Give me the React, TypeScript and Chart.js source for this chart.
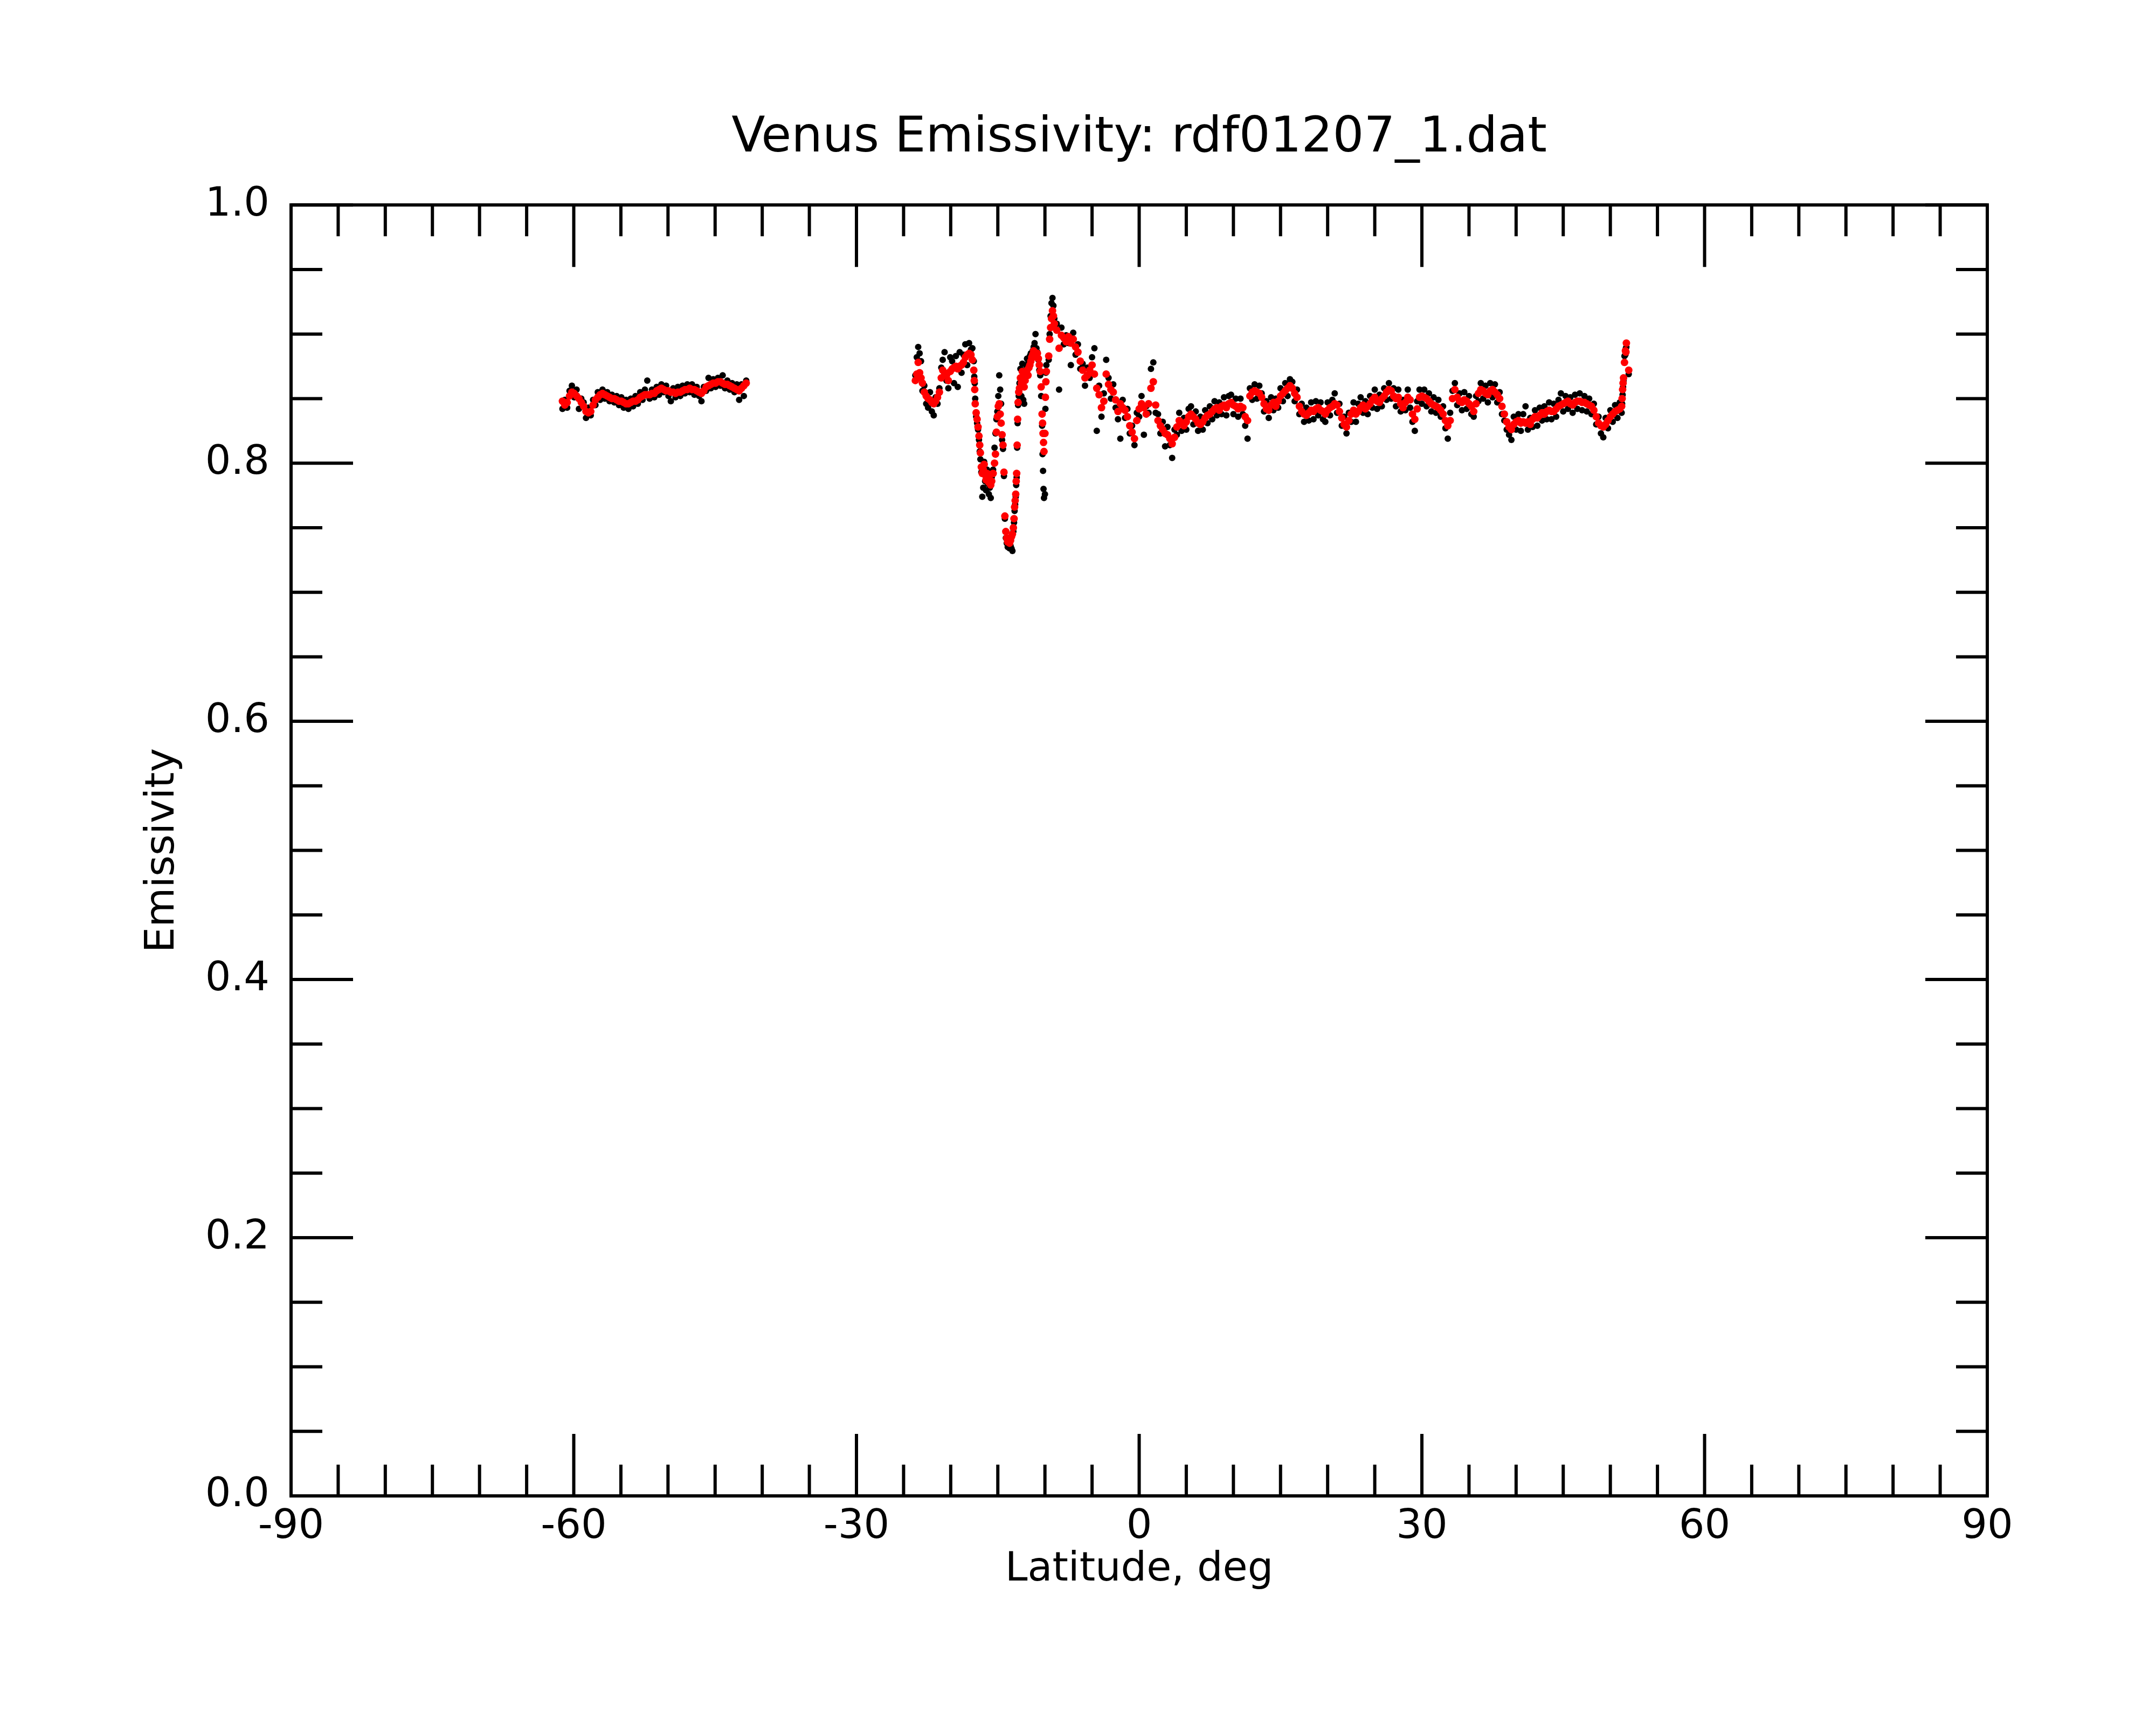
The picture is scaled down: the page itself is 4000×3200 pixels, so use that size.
import { useEffect, useRef } from "react";
import Chart from "chart.js/auto";

const FONT = "'DejaVu Sans', sans-serif";
const TITLE = "Venus Emissivity: rdf01207_1.dat";
const X_LABEL = "Latitude, deg";
const Y_LABEL = "Emissivity";

const xTicks = [-90, -60, -30, 0, 30, 60, 90];
const yTicks = [0, 0.2, 0.4, 0.6, 0.8, 1.0];
const xMinorStep = 5;
const yMinorStep = 0.05;

// southern strip, -61 to -42 deg
const southLat = [
  -61.2, -60.95, -60.7, -60.45, -60.2, -59.95, -59.7, -59.45, -59.2, -58.95,
  -58.7, -58.45, -58.2, -57.95, -57.7, -57.45, -57.2, -56.95, -56.7, -56.45,
  -56.2, -55.95, -55.7, -55.45, -55.2, -54.95, -54.7, -54.45, -54.2, -53.95,
  -53.7, -53.45, -53.2, -52.95, -52.7, -52.45, -52.2, -51.95, -51.7, -51.45,
  -51.2, -50.95, -50.7, -50.45, -50.2, -49.95, -49.7, -49.45, -49.2, -48.95,
  -48.7, -48.45, -48.2, -47.95, -47.7, -47.45, -47.2, -46.95, -46.7, -46.45,
  -46.2, -45.95, -45.7, -45.45, -45.2, -44.95, -44.7, -44.45, -44.2, -43.95,
  -43.7, -43.45, -43.2, -42.95, -42.7, -42.45, -42.2, -41.95, -41.7,
];
const southRaw = [
  0.842, 0.849, 0.843, 0.856, 0.860, 0.851, 0.857, 0.842, 0.850, 0.847,
  0.835, 0.843, 0.837, 0.849, 0.845, 0.855, 0.849, 0.857, 0.850, 0.855,
  0.848, 0.853, 0.847, 0.852, 0.845, 0.851, 0.843, 0.849, 0.842, 0.850,
  0.844, 0.852, 0.846, 0.855, 0.849, 0.857, 0.864, 0.850, 0.857, 0.851,
  0.859, 0.853, 0.861, 0.855, 0.860, 0.852, 0.848, 0.858, 0.851, 0.859,
  0.852, 0.860, 0.854, 0.861, 0.855, 0.861, 0.853, 0.859, 0.852, 0.848,
  0.859, 0.856, 0.866, 0.858, 0.865, 0.859, 0.866, 0.860, 0.868, 0.858,
  0.864, 0.857, 0.862, 0.855, 0.861, 0.849, 0.861, 0.852, 0.864,
];
const southFit = [
  0.848, 0.845, 0.847, 0.852, 0.855, 0.854, 0.852, 0.850, 0.847, 0.844,
  0.840, 0.839, 0.840, 0.845, 0.849, 0.851, 0.853, 0.854, 0.853, 0.852,
  0.851, 0.850, 0.850, 0.849, 0.848, 0.848, 0.847, 0.846, 0.846, 0.847,
  0.848, 0.848, 0.849, 0.851, 0.852, 0.853, 0.853, 0.853, 0.854, 0.854,
  0.856, 0.857, 0.858, 0.857, 0.856, 0.856, 0.855, 0.855, 0.854, 0.855,
  0.855, 0.856, 0.857, 0.857, 0.858, 0.857, 0.857, 0.856, 0.855, 0.854,
  0.856, 0.859, 0.860, 0.861, 0.862, 0.862, 0.863, 0.863, 0.862, 0.861,
  0.861, 0.860, 0.859, 0.858, 0.857, 0.856, 0.858, 0.860, 0.862,
];

// northern strip, -24 to 52 deg
const northLat = [
  // -23.75 .. -17.7
  -23.75, -23.6, -23.45, -23.3, -23.15, -23.0, -22.8, -22.6, -22.4, -22.2,
  -22.0, -21.8, -21.6, -21.4, -21.2, -21.0, -20.85, -20.65, -20.45, -20.25,
  -20.05, -19.85, -19.65, -19.45, -19.25, -19.05, -18.85, -18.65, -18.45, -18.25,
  -18.05, -17.85, -17.7,
  // -17.55 .. -9.0
  -17.55, -17.5, -17.45, -17.4, -17.3, -17.2, -17.1, -17.0, -16.92, -16.85,
  -16.75, -16.65, -16.55, -16.45, -16.35, -16.25, -16.15, -16.05, -15.95, -15.85,
  -15.75, -15.65, -15.5, -15.35, -15.25, -15.15, -15.05, -14.95, -14.85, -14.75,
  -14.65, -14.55, -14.45, -14.35, -14.25, -14.15, -14.05, -13.95, -13.85, -13.75,
  -13.65, -13.55, -13.45, -13.35, -13.28, -13.22, -13.16, -13.1, -13.05, -13.0,
  -12.95, -12.9, -12.85, -12.78, -12.7, -12.6, -12.5, -12.4, -12.3, -12.2,
  -12.1, -12.0, -11.9, -11.8, -11.7, -11.6, -11.5, -11.4, -11.3, -11.2,
  -11.1, -11.0, -10.9, -10.8, -10.7, -10.6, -10.5, -10.4, -10.3, -10.25,
  -10.2, -10.15, -10.1, -10.0, -9.95, -9.9, -9.85, -9.6, -9.5, -9.4,
  -9.3, -9.2, -9.1, -9.0,
  // -8.75 .. 51
  -8.75, -8.5, -8.25,
  -8, -7.75, -7.5, -7.25, -7, -6.75, -6.5, -6.25,
  -6, -5.75, -5.5, -5.25, -5, -4.75, -4.5, -4.25,
  -4, -3.75, -3.5, -3.25, -3, -2.75, -2.5, -2.25,
  -2, -1.75, -1.5, -1.25, -1, -0.75, -0.5, -0.25,
  0, 0.25, 0.5, 0.75, 1, 1.25, 1.5, 1.75,
  2, 2.25, 2.5, 2.75, 3, 3.25, 3.5, 3.75,
  4, 4.25, 4.5, 4.75, 5, 5.25, 5.5, 5.75,
  6, 6.25, 6.5, 6.75, 7, 7.25, 7.5, 7.75,
  8, 8.25, 8.5, 8.75, 9, 9.25, 9.5, 9.75,
  10, 10.25, 10.5, 10.75, 11, 11.25, 11.5, 11.75,
  12, 12.25, 12.5, 12.75, 13, 13.25, 13.5, 13.75,
  14, 14.25, 14.5, 14.75, 15, 15.25, 15.5, 15.75,
  16, 16.25, 16.5, 16.75, 17, 17.25, 17.5, 17.75,
  18, 18.25, 18.5, 18.75, 19, 19.25, 19.5, 19.75,
  20, 20.25, 20.5, 20.75, 21, 21.25, 21.5, 21.75,
  22, 22.25, 22.5, 22.75, 23, 23.25, 23.5, 23.75,
  24, 24.25, 24.5, 24.75, 25, 25.25, 25.5, 25.75,
  26, 26.25, 26.5, 26.75, 27, 27.25, 27.5, 27.75,
  28, 28.25, 28.5, 28.75, 29, 29.25, 29.5, 29.75,
  30, 30.25, 30.5, 30.75, 31, 31.25, 31.5, 31.75,
  32, 32.25, 32.5, 32.75, 33, 33.25, 33.5, 33.75,
  34, 34.25, 34.5, 34.75, 35, 35.25, 35.5, 35.75,
  36, 36.25, 36.5, 36.75, 37, 37.25, 37.5, 37.75,
  38, 38.25, 38.5, 38.75, 39, 39.25, 39.5, 39.75,
  40, 40.25, 40.5, 40.75, 41, 41.25, 41.5, 41.75,
  42, 42.25, 42.5, 42.75, 43, 43.25, 43.5, 43.75,
  44, 44.25, 44.5, 44.75, 45, 45.25, 45.5, 45.75,
  46, 46.25, 46.5, 46.75, 47, 47.25, 47.5, 47.75,
  48, 48.25, 48.5, 48.75, 49, 49.25, 49.5, 49.75,
  50, 50.25, 50.5, 50.75, 51,
  // final upturn
  51.2, 51.25, 51.3, 51.35, 51.4, 51.5, 51.6, 51.65, 51.7, 51.95,
];
const northRaw = [
  0.868, 0.882, 0.890, 0.885, 0.879, 0.856, 0.860, 0.846, 0.843, 0.855,
  0.840, 0.837, 0.851, 0.846, 0.858, 0.874, 0.880, 0.886, 0.864, 0.858,
  0.882, 0.879, 0.862, 0.883, 0.859, 0.886, 0.870, 0.884, 0.892, 0.876,
  0.893, 0.888, 0.889,
  0.879, 0.867, 0.862, 0.850, 0.836, 0.831, 0.826, 0.818, 0.809, 0.803,
  0.793, 0.774, 0.781, 0.801, 0.786, 0.779, 0.795, 0.784, 0.776, 0.781,
  0.773, 0.789, 0.795, 0.812, 0.823, 0.834, 0.840, 0.852, 0.868, 0.857,
  0.846, 0.818, 0.811, 0.790, 0.757, 0.742, 0.738, 0.735, 0.737, 0.734,
  0.736, 0.734, 0.732, 0.747, 0.754, 0.763, 0.768, 0.774, 0.783, 0.789,
  0.812, 0.831, 0.845, 0.852, 0.862, 0.873, 0.852, 0.877, 0.849, 0.846,
  0.872, 0.876, 0.881, 0.880, 0.878, 0.883, 0.885, 0.884, 0.887, 0.890,
  0.893, 0.900, 0.889, 0.886, 0.880, 0.872, 0.868, 0.852, 0.829, 0.807,
  0.794, 0.780, 0.773, 0.776, 0.842, 0.870, 0.876, 0.880, 0.900, 0.914,
  0.924, 0.928, 0.922, 0.912,
  0.908, 0.857, 0.905,
  0.892, 0.899, 0.893, 0.876, 0.901, 0.884, 0.892, 0.873,
  0.877, 0.860, 0.874, 0.866, 0.882, 0.889, 0.825, 0.860,
  0.836, 0.854, 0.880, 0.866, 0.850, 0.861, 0.843, 0.834,
  0.819, 0.849, 0.835, 0.842, 0.823, 0.829, 0.814, 0.839,
  0.836, 0.852, 0.822, 0.844, 0.839, 0.873, 0.878, 0.839,
  0.838, 0.823, 0.832, 0.813, 0.828, 0.814, 0.804, 0.826,
  0.822, 0.839, 0.825, 0.835, 0.826, 0.842, 0.844, 0.830,
  0.840, 0.825, 0.836, 0.826, 0.841, 0.831, 0.844, 0.834,
  0.848, 0.837, 0.847, 0.838, 0.851, 0.837, 0.852, 0.853,
  0.838, 0.850, 0.836, 0.850, 0.838, 0.829, 0.819, 0.858,
  0.849, 0.861, 0.850, 0.860, 0.854, 0.840, 0.848, 0.835,
  0.851, 0.841, 0.850, 0.843, 0.858, 0.848, 0.862, 0.852,
  0.865, 0.863, 0.848, 0.857, 0.838, 0.846, 0.832, 0.843,
  0.833, 0.847, 0.834, 0.848, 0.837, 0.847, 0.834, 0.832,
  0.847, 0.837, 0.849, 0.854, 0.839, 0.846, 0.829, 0.836,
  0.823, 0.839, 0.832, 0.847, 0.832, 0.846, 0.851, 0.839,
  0.848, 0.838, 0.852, 0.843, 0.857, 0.842, 0.853, 0.844,
  0.858, 0.849, 0.862, 0.850, 0.858, 0.844, 0.857, 0.840,
  0.849, 0.841, 0.857, 0.843, 0.832, 0.825, 0.848, 0.857,
  0.846, 0.857, 0.844, 0.854, 0.840, 0.851, 0.839, 0.849,
  0.836, 0.844, 0.827, 0.819, 0.839, 0.856, 0.862, 0.845,
  0.854, 0.841, 0.855, 0.842, 0.852, 0.838, 0.836, 0.852,
  0.848, 0.862, 0.850, 0.860, 0.847, 0.862, 0.851, 0.861,
  0.847, 0.855, 0.838, 0.833, 0.826, 0.822, 0.818, 0.836,
  0.826, 0.838, 0.825, 0.838, 0.844, 0.826, 0.835, 0.828,
  0.841, 0.829, 0.843, 0.833, 0.844, 0.834, 0.847, 0.834,
  0.846, 0.836, 0.849, 0.854, 0.840, 0.852, 0.842, 0.851,
  0.839, 0.853, 0.842, 0.854, 0.841, 0.852, 0.840, 0.850,
  0.838, 0.846, 0.830, 0.836, 0.823, 0.820, 0.835, 0.827,
  0.841, 0.832, 0.845, 0.835, 0.847,
  0.839, 0.846, 0.853, 0.859, 0.864, 0.883, 0.884, 0.889, 0.890, 0.869,
];
const northFit = [
  0.864, 0.869, 0.878, 0.870, 0.866, 0.862, 0.855, 0.852, 0.850, 0.849,
  0.847, 0.846, 0.848, 0.851, 0.855, 0.866, 0.872, 0.870, 0.868, 0.864,
  0.871, 0.873, 0.874, 0.875, 0.873, 0.875, 0.876, 0.878, 0.882, 0.884,
  0.885, 0.884, 0.880,
  0.872, 0.864, 0.857, 0.846, 0.839, 0.834, 0.828, 0.821, 0.814, 0.808,
  0.797, 0.792, 0.795, 0.799, 0.791, 0.787, 0.792, 0.789, 0.785, 0.787,
  0.783, 0.786, 0.792, 0.800, 0.807, 0.824, 0.836, 0.844, 0.846, 0.838,
  0.831, 0.822, 0.814, 0.793, 0.759, 0.747, 0.742, 0.739, 0.741, 0.738,
  0.740, 0.743, 0.745, 0.750, 0.757, 0.766, 0.771, 0.776, 0.786, 0.792,
  0.814, 0.834, 0.847, 0.855, 0.858, 0.866, 0.862, 0.871, 0.867, 0.859,
  0.864, 0.869, 0.872, 0.868, 0.874, 0.876, 0.879, 0.882, 0.884, 0.887,
  0.886, 0.884, 0.882, 0.885, 0.881, 0.876, 0.871, 0.859, 0.838, 0.831,
  0.823, 0.816, 0.809, 0.823, 0.851, 0.863, 0.871, 0.883, 0.896, 0.905,
  0.912, 0.918, 0.914, 0.908,
  0.903, 0.889, 0.899,
  0.897, 0.894, 0.898, 0.893, 0.896, 0.890, 0.886, 0.879,
  0.872, 0.866, 0.868, 0.872, 0.876, 0.869, 0.858, 0.853,
  0.843, 0.848, 0.869, 0.861, 0.857, 0.855, 0.849, 0.840,
  0.846, 0.843, 0.841, 0.836, 0.829, 0.824, 0.819, 0.833,
  0.842, 0.846, 0.843, 0.838, 0.846, 0.858, 0.863, 0.845,
  0.833, 0.829, 0.826, 0.823, 0.822, 0.819, 0.815, 0.820,
  0.828, 0.833, 0.831, 0.829, 0.832, 0.836, 0.838, 0.836,
  0.834, 0.831, 0.830, 0.832, 0.835, 0.837, 0.838, 0.840,
  0.842, 0.843, 0.841, 0.844, 0.845, 0.843, 0.846, 0.847,
  0.845, 0.844, 0.842, 0.844, 0.843, 0.836, 0.833, 0.852,
  0.855, 0.856, 0.855, 0.854, 0.851, 0.846, 0.842, 0.841,
  0.845, 0.847, 0.844, 0.848, 0.852, 0.854, 0.856, 0.858,
  0.860, 0.858, 0.854, 0.851, 0.844, 0.840, 0.838, 0.837,
  0.839, 0.841, 0.840, 0.842, 0.843, 0.841, 0.840, 0.838,
  0.841, 0.843, 0.844, 0.846, 0.845, 0.840, 0.835, 0.830,
  0.828, 0.833, 0.838, 0.841, 0.838, 0.840, 0.843, 0.845,
  0.842, 0.844, 0.846, 0.849, 0.851, 0.848, 0.847, 0.850,
  0.852, 0.855, 0.857, 0.856, 0.852, 0.850, 0.851, 0.846,
  0.843, 0.847, 0.851, 0.849, 0.838, 0.834, 0.842, 0.851,
  0.852, 0.851, 0.850, 0.848, 0.846, 0.845, 0.844, 0.843,
  0.841, 0.838, 0.833, 0.829, 0.833, 0.850, 0.857, 0.851,
  0.848, 0.847, 0.849, 0.848, 0.846, 0.844, 0.840, 0.846,
  0.854, 0.857, 0.856, 0.854, 0.853, 0.856, 0.857, 0.855,
  0.853, 0.850, 0.844, 0.838, 0.832, 0.828, 0.826, 0.830,
  0.832, 0.833, 0.831, 0.832, 0.831, 0.832, 0.830, 0.834,
  0.836, 0.835, 0.837, 0.839, 0.838, 0.840, 0.841, 0.840,
  0.840, 0.842, 0.844, 0.845, 0.846, 0.847, 0.848, 0.846,
  0.845, 0.847, 0.848, 0.848, 0.847, 0.847, 0.846, 0.845,
  0.844, 0.841, 0.836, 0.831, 0.829, 0.828, 0.830, 0.833,
  0.836, 0.838, 0.840, 0.841, 0.842,
  0.844, 0.850, 0.857, 0.862, 0.866, 0.878, 0.887, 0.886, 0.893, 0.872,
];

function toPoints(lat: number[], val: number[]) {
  return lat.map((x, i) => ({ x, y: val[i] }));
}

const MAJOR_LEN = 115;
const MINOR_LEN = 58;

// IDL-style frame: box on all four sides, ticks pointing inwards
const frameTicks = {
  id: "frameTicks",
  afterDatasetsDraw(chart: any) {
    const { ctx, chartArea, scales } = chart;
    const { left, right, top, bottom } = chartArea;
    const x = scales.x;
    const y = scales.y;
    ctx.save();
    ctx.strokeStyle = "#000";
    ctx.lineWidth = 6;
    ctx.beginPath();
    const nx = Math.round((x.max - x.min) / xMinorStep);
    for (let i = 0; i <= nx; i++) {
      const v = x.min + i * xMinorStep;
      const px = x.getPixelForValue(v);
      const len = xTicks.includes(v) ? MAJOR_LEN : MINOR_LEN;
      ctx.moveTo(px, bottom);
      ctx.lineTo(px, bottom - len);
      ctx.moveTo(px, top);
      ctx.lineTo(px, top + len);
    }
    const ny = Math.round((y.max - y.min) / yMinorStep);
    for (let i = 0; i <= ny; i++) {
      const v = y.min + i * yMinorStep;
      const py = y.getPixelForValue(v);
      const major = yTicks.some((t) => Math.abs(t - v) < 1e-6);
      const len = major ? MAJOR_LEN : MINOR_LEN;
      ctx.moveTo(left, py);
      ctx.lineTo(left + len, py);
      ctx.moveTo(right, py);
      ctx.lineTo(right - len, py);
    }
    ctx.stroke();
    ctx.strokeRect(left, top, right - left, bottom - top);
    ctx.restore();
  },
};

export default function App() {
  const canvasRef = useRef<HTMLCanvasElement>(null);

  useEffect(() => {
    if (!canvasRef.current) return;
    Chart.defaults.font.family = FONT;
    Chart.defaults.color = "#000";

    const chart = new Chart(canvasRef.current, {
      type: "scatter",
      data: {
        datasets: [
          {
            label: "smoothed",
            data: [...toPoints(southLat, southFit), ...toPoints(northLat, northFit)],
            backgroundColor: "#ff0000",
            pointRadius: 7,
            pointBorderWidth: 0,
            pointHoverRadius: 7,
            order: 1,
          },
          {
            label: "raw",
            data: [...toPoints(southLat, southRaw), ...toPoints(northLat, northRaw)],
            backgroundColor: "#000000",
            pointRadius: 6,
            pointBorderWidth: 0,
            pointHoverRadius: 6,
            order: 2,
          },
        ],
      },
      options: {
        animation: false,
        responsive: false,
        devicePixelRatio: 1,
        events: [],
        // left padding + equal right gutter keep the title centred over the plot
        layout: { padding: { left: 227, right: 0, top: 0, bottom: 0 } },
        plugins: {
          legend: { display: false },
          tooltip: { enabled: false },
          title: {
            display: true,
            text: TITLE,
            color: "#000",
            font: { family: FONT, size: 91, weight: "normal", lineHeight: 1.2 },
            padding: { top: 203, bottom: 68 },
          },
        },
        scales: {
          x: {
            type: "linear",
            min: -90,
            max: 90,
            grid: { display: false, drawTicks: false },
            border: { display: false },
            afterBuildTicks: (s: any) => {
              s.ticks = xTicks.map((v) => ({ value: v }));
            },
            afterFit: (s: any) => {
              s.height = 425;
            },
            ticks: {
              color: "#000",
              font: { family: FONT, size: 75 },
              padding: 14,
              maxRotation: 0,
              autoSkip: false,
              callback: (v: any) => String(v),
            },
            title: {
              display: true,
              text: X_LABEL,
              color: "#000",
              font: { family: FONT, size: 75, lineHeight: 1.2 },
              padding: { top: 0, bottom: 242 },
            },
          },
          y: {
            type: "linear",
            min: 0,
            max: 1,
            grid: { display: false, drawTicks: false },
            border: { display: false },
            afterBuildTicks: (s: any) => {
              s.ticks = yTicks.map((v) => ({ value: v }));
            },
            afterFit: (s: any) => {
              s.width = 313;
            },
            ticks: {
              color: "#000",
              font: { family: FONT, size: 75 },
              padding: 40,
              autoSkip: false,
              callback: (v: any) => Number(v).toFixed(1),
            },
            title: {
              display: true,
              text: Y_LABEL,
              color: "#000",
              font: { family: FONT, size: 75, lineHeight: 1.2 },
              padding: { top: 31, bottom: 0 },
            },
          },
          yGutter: {
            type: "linear",
            position: "right",
            display: true,
            min: 0,
            max: 1,
            grid: { display: false, drawTicks: false },
            border: { display: false },
            ticks: { display: false },
            afterFit: (s: any) => {
              s.width = 313;
            },
          },
        },
      },
      plugins: [frameTicks],
    });

    return () => {
      chart.destroy();
    };
  }, []);

  return (
    <div
      style={{
        position: "absolute",
        left: 0,
        top: 0,
        width: 4000,
        height: 3200,
        background: "#fff",
      }}
    >
      <canvas ref={canvasRef} width={4000} height={3200} style={{ width: 4000, height: 3200 }} />
    </div>
  );
}
